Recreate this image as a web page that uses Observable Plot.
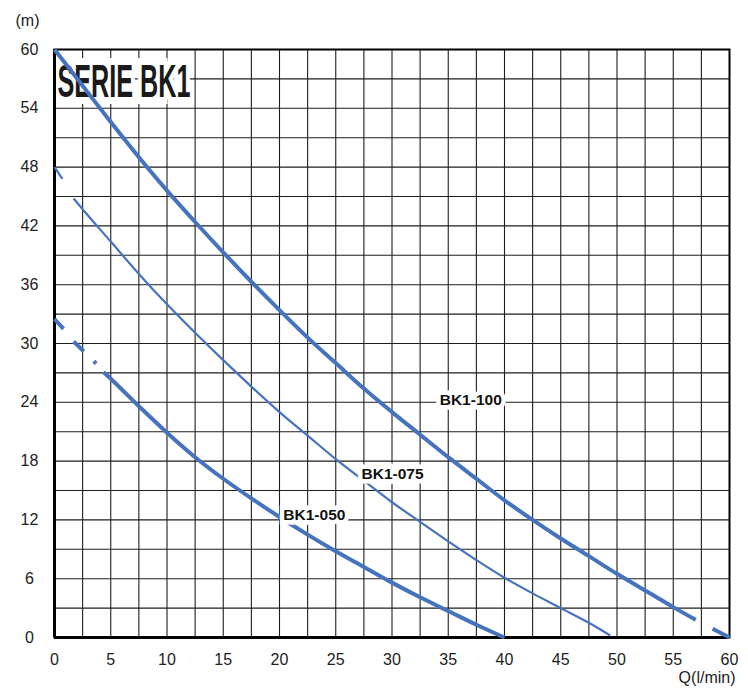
<!DOCTYPE html>
<html><head><meta charset="utf-8">
<script src="https://cdn.jsdelivr.net/npm/d3@7"></script>
<script src="https://cdn.jsdelivr.net/npm/@observablehq/plot@0.6"></script>
<style>body{margin:0;background:#fff;}</style>
</head><body><div id="chart"></div>
<script>
// Q (l/min) and H (m); null = break in the drawn line
const q100 = [0, 2.5, 5, 7.5, 10, 12.5, 15, 17.5, 20, 22.5, 25, 27.5, 30, 32.5, 35, 37.5, 40, 42.5, 45, 47.5, 50, 52.5, 55, 57, 57.7, 58.5, 60];
const h100 = [60, 56.3, 52.6, 49.0, 45.6, 42.4, 39.3, 36.3, 33.4, 30.6, 28.0, 25.4, 23.0, 20.7, 18.4, 16.2, 14.0, 12.0, 10.1, 8.3, 6.5, 4.8, 3.1, 1.8, null, 0.9, 0];

const q075 = [0, 0.7, 1.2, 1.7, 2.5, 5, 7.5, 10, 12.5, 15, 17.5, 20, 22.5, 25, 27.5, 30, 32.5, 35, 37.5, 40, 42.5, 45, 47.5, 49.4];
const h075 = [48, 46.8, null, 44.8, 43.7, 40.4, 37.1, 34.0, 31.1, 28.3, 25.6, 23.0, 20.6, 18.2, 16.0, 13.8, 11.8, 9.8, 7.9, 6.1, 4.5, 3.0, 1.5, 0.2];

const q050 = [0, 0.8, 1.2, 1.7, 2.6, 3.1, 3.5, 3.7, 4.0, 4.35, 5, 7.5, 10, 12.5, 15, 17.5, 20, 22.5, 25, 27.5, 30, 32.5, 35, 37.5, 40];
const h050 = [32.5, 31.5, null, 30.2, 29.2, null, 28.2, 27.95, null, 27.1, 26.4, 23.6, 20.9, 18.4, 16.2, 14.2, 12.3, 10.5, 8.8, 7.2, 5.6, 4.1, 2.7, 1.3, 0];

const labelNames = ["BK1-100", "BK1-075", "BK1-050"];
const labelQ = [37.0, 30.05, 23.1];
const labelH = [24.2, 16.7, 12.5];

const xTicks = d3.range(0, 61, 5);
const yTicks = d3.range(0, 61, 6);
const xGrid = d3.range(2.5, 60, 2.5);
const yGrid = d3.range(3, 60, 3);

const title = "SERIE BK1";
const yUnit = "(m)";
const xUnit = "Q(l/min)";

const toRows = (q, h) => q.map((v, i) => ({q: v, h: h[i]}));
const s100 = toRows(q100, h100);
const s075 = toRows(q075, h075);
const s050 = toRows(q050, h050);
const labels = labelNames.map((n, i) => ({name: n, q: labelQ[i], h: labelH[i]}));

const blue = "#4673be";

const svg = Plot.plot({
  width: 748,
  height: 690,
  marginLeft: 54,
  marginRight: 19,
  marginTop: 49,
  marginBottom: 53,
  x: {domain: [0, 60]},
  y: {domain: [0, 60]},
  style: {fontFamily: "'Liberation Sans', Arial, sans-serif", fontSize: "16px", color: "#222", background: "#fff"},
  marks: [
    Plot.gridX(xGrid, {stroke: "#1e1e1e", strokeOpacity: 1, strokeWidth: 1.1}),
    Plot.gridY(yGrid, {stroke: "#1e1e1e", strokeOpacity: 1, strokeWidth: 1.1}),
    Plot.text([title], {frameAnchor: "top-left", dx: 3, dy: 33, textAnchor: "start", lineAnchor: "middle",
      fontSize: 46, fontWeight: "bold", fontFamily: "'Liberation Sans', Arial, sans-serif",
      fill: "#1a1a1a", stroke: "white", strokeWidth: 14, strokeLinejoin: "miter"}),
    Plot.frame({stroke: "#000", strokeWidth: 2}),
    Plot.ruleX([0], {stroke: "#000", strokeWidth: 3}),
    Plot.ruleY([0], {stroke: "#000", strokeWidth: 3}),
    Plot.axisY({ticks: yTicks, tickSize: 0, tickPadding: 25, textAnchor: "middle", label: null, fontSize: 16}),
    Plot.axisX({ticks: xTicks, tickSize: 0, tickPadding: 16, label: null, fontSize: 16}),
    Plot.line(s050, {x: "q", y: "h", stroke: blue, strokeWidth: 4, strokeLinecap: "butt", curve: "monotone-x"}),
    Plot.line(s075, {x: "q", y: "h", stroke: blue, strokeWidth: 2.2, strokeLinecap: "butt", curve: "monotone-x"}),
    Plot.line(s100, {x: "q", y: "h", stroke: blue, strokeWidth: 4, strokeLinecap: "butt", curve: "monotone-x"}),
    Plot.text(labels, {x: "q", y: "h", text: "name", fontSize: 15.5, fontWeight: "bold", fill: "#111",
      stroke: "white", strokeWidth: 9, strokeLinejoin: "miter"}),
    Plot.text([yUnit], {frameAnchor: "top-left", dx: -27, dy: -35, textAnchor: "middle", fill: "#222", fontSize: 16}),
    Plot.text([xUnit], {frameAnchor: "bottom-right", dx: 6, dy: 45, textAnchor: "end", fill: "#222", fontSize: 16})
  ]
});

svg.querySelectorAll("text").forEach(t => {
  if (t.textContent === title) {
    t.setAttribute("textLength", "133");
    t.setAttribute("lengthAdjust", "spacingAndGlyphs");
  }
});

document.getElementById("chart").appendChild(svg);
</script>
</body></html>
